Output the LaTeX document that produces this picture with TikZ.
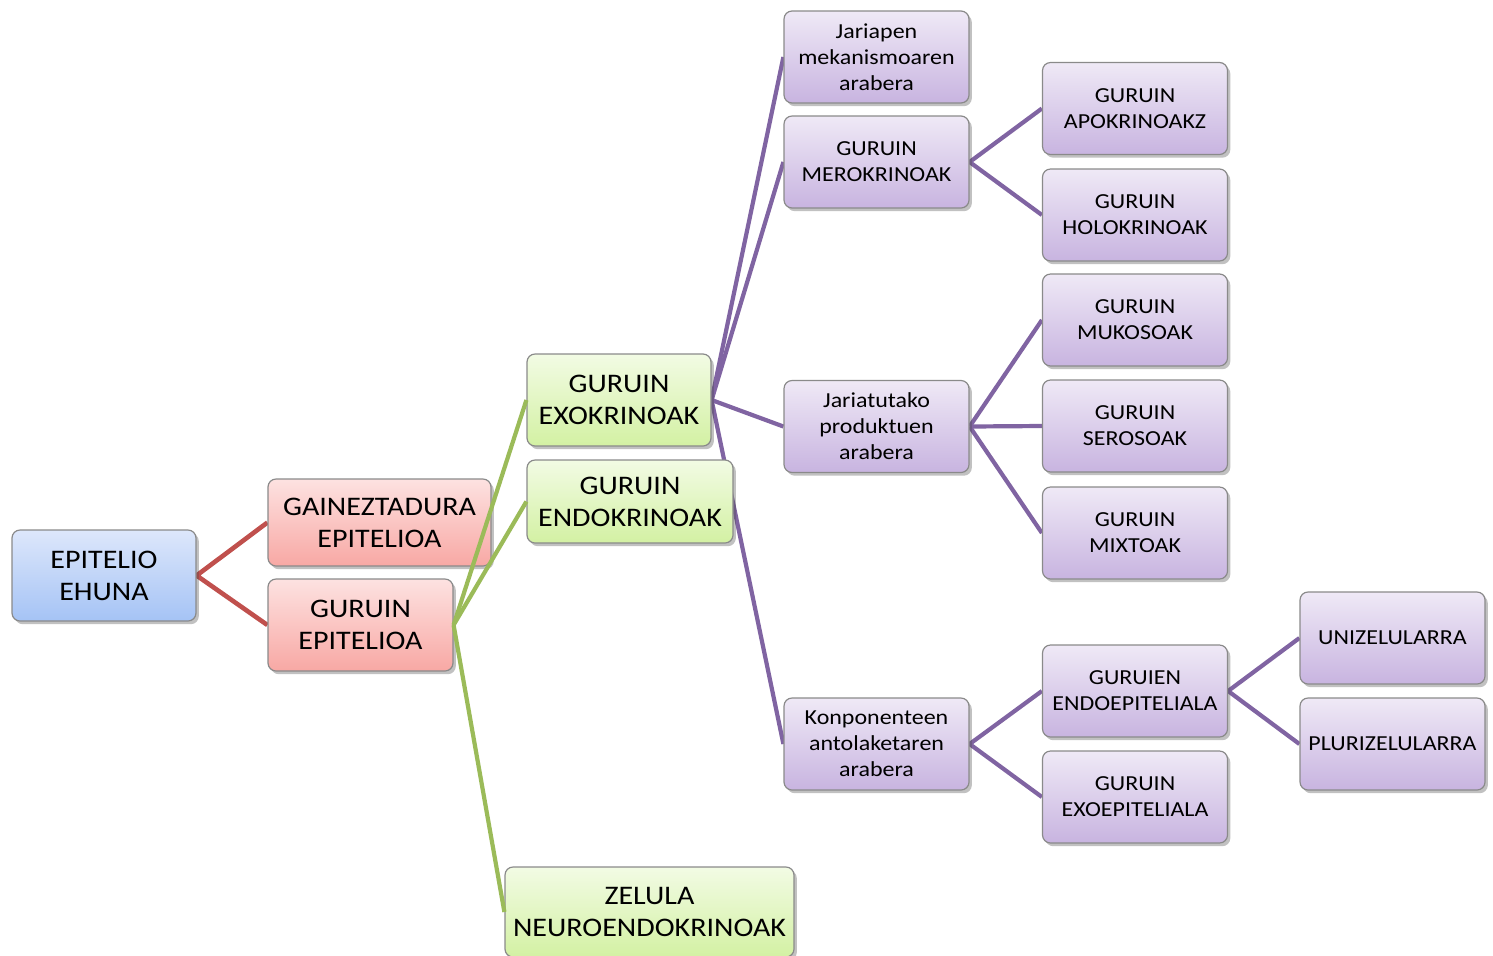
\documentclass[tikz,border=0pt]{standalone}
\usepackage{fontspec}
\setmainfont{Carlito}[FakeStretch=1.12]
\usetikzlibrary{shadows}
\pgfdeclarelayer{under}
\pgfdeclarelayer{over}
\pgfsetlayers{under,main,over}

\definecolor{bluetop}{HTML}{DDE7FB}
\definecolor{bluebot}{HTML}{A5C3F5}
\definecolor{redtop}{HTML}{FDE2E1}
\definecolor{redbot}{HTML}{F8A8A4}
\definecolor{greentop}{HTML}{F2FBE4}
\definecolor{greenbot}{HTML}{D3F1A3}
\definecolor{purptop}{HTML}{EFE9F6}
\definecolor{purpbot}{HTML}{C8B4E0}
\definecolor{redline}{HTML}{C0504D}
\definecolor{greenline}{HTML}{9BBB59}
\definecolor{purpline}{HTML}{8064A2}
\definecolor{boxedge}{HTML}{8A8A8A}

\tikzset{
  box/.style={rectangle, rounded corners=4pt, draw=boxedge, line width=0.6pt,
    align=center, inner sep=0pt,
    drop shadow={shadow xshift=1.4pt, shadow yshift=-1.6pt, opacity=0.35, fill=black!70}},
  bigbox/.style={box, font=\fontsize{13.4}{16}\selectfont},
  smallbox/.style={box, font=\fontsize{10.7}{13}\selectfont},
  bluebox/.style={bigbox, top color=bluetop, bottom color=bluebot},
  redbox/.style={bigbox, top color=redtop, bottom color=redbot},
  greenbox/.style={bigbox, top color=greentop, bottom color=greenbot},
  purpbox/.style={smallbox, top color=purptop, bottom color=purpbot,
    minimum width=92.5pt, minimum height=46pt},
  redlink/.style={draw=redline, line width=2.3pt},
  greenlink/.style={draw=greenline, line width=2.1pt},
  purplink/.style={draw=purpline, line width=2.1pt},
}

\begin{document}
\begin{tikzpicture}[x=0.5pt, y=-0.5pt]
\useasboundingbox (0,0) rectangle (1493,955);

% first levels
\node[bluebox, minimum width=92pt, minimum height=45.5pt] (epi) at (104,575.5) {EPITELIO\\EHUNA};
\node[redbox, minimum width=111.5pt, minimum height=43.5pt] (gain) at (379.5,522.5) {GAINEZTADURA\\EPITELIOA};
\node[redbox, minimum width=92.5pt, minimum height=46pt] (gep) at (360.5,625) {GURUIN\\EPITELIOA};

% gland types
\node[greenbox, minimum width=92pt, minimum height=46pt] (exo) at (619,400) {GURUIN\\EXOKRINOAK};
\node[greenbox, minimum width=103pt, minimum height=41.5pt] (endo) at (630,501.5) {GURUIN\\ENDOKRINOAK};
\node[greenbox, minimum width=144.5pt, minimum height=45pt] (zel) at (649.5,912) {ZELULA\\NEUROENDOKRINOAK};

% classification criteria
\node[purpbox] (jar) at (876.5,57) {Jariapen\\mekanismoaren\\arabera};
\node[purpbox] (mero) at (876.5,162) {GURUIN\\MEROKRINOAK};
\node[purpbox] (jprod) at (876.5,426.5) {Jariatutako\\produktuen\\arabera};
\node[purpbox] (konp) at (876.5,744) {Konponenteen\\antolaketaren\\arabera};

% subtypes
\node[purpbox] (apo) at (1135,108.5) {GURUIN\\APOKRINOAKZ};
\node[purpbox] (holo) at (1135,215) {GURUIN\\HOLOKRINOAK};
\node[purpbox] (muko) at (1135,320) {GURUIN\\MUKOSOAK};
\node[purpbox] (sero) at (1135,426) {GURUIN\\SEROSOAK};
\node[purpbox] (mixt) at (1135,533) {GURUIN\\MIXTOAK};
\node[purpbox] (endoep) at (1135,691) {GURUIEN\\ENDOEPITELIALA};
\node[purpbox] (exoep) at (1135,797) {GURUIN\\EXOEPITELIALA};

\node[purpbox] (uni) at (1392.5,638) {UNIZELULARRA};
\node[purpbox] (pluri) at (1392.5,744) {PLURIZELULARRA};

% connectors
\begin{pgfonlayer}{under}
  \draw[redlink] (gain.west) -- (epi.east) -- (gep.west);
  \draw[purplink] (exo.east) -- (jar.west);
  \draw[purplink] (exo.east) -- (mero.west);
  \draw[purplink] (exo.east) -- (jprod.west);
  \draw[purplink] (exo.east) -- (konp.west);
  \draw[purplink] (apo.west) -- (mero.east) -- (holo.west);
  \draw[purplink] (jprod.east) -- (muko.west);
  \draw[purplink] (jprod.east) -- (sero.west);
  \draw[purplink] (jprod.east) -- (mixt.west);
  \draw[purplink] (endoep.west) -- (konp.east) -- (exoep.west);
  \draw[purplink] (uni.west) -- (endoep.east) -- (pluri.west);
\end{pgfonlayer}
\begin{pgfonlayer}{over}
  \draw[greenlink] (gep.east) -- (exo.west);
  \draw[greenlink] (gep.east) -- (endo.west);
  \draw[greenlink] (gep.east) -- (zel.west);
\end{pgfonlayer}
\end{tikzpicture}
\end{document}
